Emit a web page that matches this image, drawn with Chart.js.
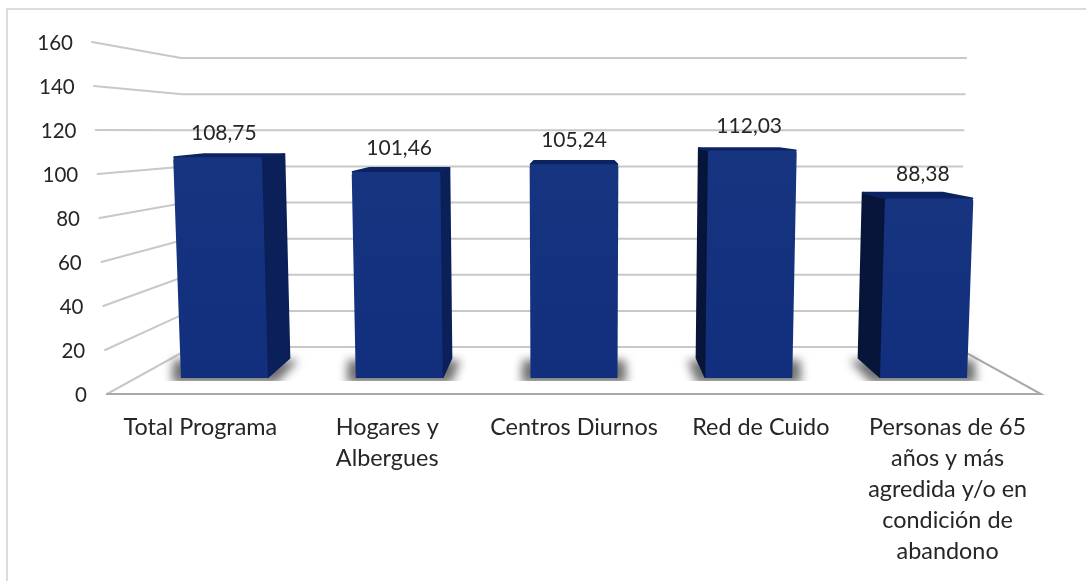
<!DOCTYPE html>
<html lang="es">
<head>
<meta charset="utf-8">
<style>
html,body{margin:0;padding:0;background:#fff;overflow:hidden}
#wrap{position:absolute;left:0;top:0;width:1086px;height:581px}
</style>
<script src="https://cdn.jsdelivr.net/npm/chart.js@4/dist/chart.umd.min.js"></script>
</head>
<body>
<div id="wrap"><canvas id="c" width="1086" height="581"></canvas></div>
<script>
const categories = [
  'Total Programa',
  ['Hogares y', 'Albergues'],
  'Centros Diurnos',
  'Red de Cuido',
  ['Personas de 65', 'años y más', 'agredida y/o en', 'condición de', 'abandono']
];
const values = [108.75, 101.46, 105.24, 112.03, 88.38];
const gridValues = [0, 20, 40, 60, 80, 100, 120, 140, 160];

const FONT = 'Lato, "Open Sans", sans-serif';
const TEXT = '#262626';

/* perspective of the fake 3D box */
const FRONT_SCALE = 0.9355;   /* bar front plane against the axis plane */
const DEPTH_SCALE = 0.927;    /* bar back plane against bar front plane */
const DEPTH_BASE_Y = 358;
const SKEW = 0.00009;

/* plain polygon with an optional rounded outline in its own colour */
function poly(ctx, pts, fill, outline) {
  ctx.beginPath();
  pts.forEach((p, i) => i ? ctx.lineTo(p[0], p[1]) : ctx.moveTo(p[0], p[1]));
  ctx.closePath();
  ctx.fillStyle = fill;
  ctx.fill();
  if (outline) {
    ctx.strokeStyle = fill;
    ctx.lineWidth = outline;
    ctx.lineJoin = 'round';
    ctx.stroke();
  }
}

function barGeometry(chart, el) {
  const a = chart.chartArea;
  const cx = (a.left + a.right) / 2;
  const fx = x => cx + (x - cx) * FRONT_SCALE;
  const bx = x => cx + (x - cx) * FRONT_SCALE * DEPTH_SCALE;
  const l = el.x - el.width / 2, r = el.x + el.width / 2;
  const h = el.base - el.y;
  const skew = x => (x - cx) * SKEW * h;
  const fl = fx(l), fr = fx(r), bl = bx(l), br = bx(r);
  const backTop = DEPTH_BASE_Y - h * DEPTH_SCALE;
  return {
    cx, h, base: el.base, top: el.y, backTop,
    fl, fr, bl, br,
    ftl: fl + skew(fl), ftr: fr + skew(fr),
    btl: bl + skew(bl) * 0.9, btr: br + skew(br) * 0.9
  };
}

function drawBar3D(ctx) {
  const chart = this.$chart;
  const g = barGeometry(chart, this);
  ctx.save();
  /* side face */
  if (g.fr < g.br) {
    poly(ctx, [[g.ftr, g.top + 1], [g.btr - 1, g.backTop + 1], [g.br - 1, DEPTH_BASE_Y], [g.fr, g.base - 1]], '#0b1f58', 2);
  }
  if (g.fl > g.bl) {
    poly(ctx, [[g.ftl, g.top + 1], [g.btl + 1, g.backTop + 1], [g.bl + 1, DEPTH_BASE_Y], [g.fl, g.base - 1]], '#061539', 2);
  }
  /* top face */
  poly(ctx, [[g.ftl + 1, g.top], [g.btl + 1, g.backTop + 1], [g.btr - 1, g.backTop + 1], [g.ftr - 1, g.top]], '#0c2361', 2);
  /* front face, slightly rounded at the top corners */
  const grad = ctx.createLinearGradient(0, g.top, 0, g.base);
  grad.addColorStop(0, '#173481');
  grad.addColorStop(1, '#122f7d');
  ctx.beginPath();
  ctx.moveTo(g.fl, g.base);
  ctx.arcTo(g.ftl, g.top, g.ftr, g.top, 3);
  ctx.arcTo(g.ftr, g.top, g.fr, g.base, 3);
  ctx.lineTo(g.fr, g.base);
  ctx.closePath();
  ctx.fillStyle = grad;
  ctx.fill();
  ctx.restore();
}

const box3d = {
  id: 'box3d',
  afterDatasetsUpdate(chart) {
    chart.getDatasetMeta(0).data.forEach(el => { el.$chart = chart; el.draw = drawBar3D; });
  },
  beforeDraw(chart) {
    /* tick labels follow the slanted left wall */
    const items = chart.scales.y.getLabelItems();
    if (!items._shifted) {
      items.forEach(it => {
        it.options.translation[0] -= Number(it.label) * 14 / 160;
        it.options.translation[1] += 1;
      });
      items._shifted = true;
    }
  },
  beforeDatasetsDraw(chart) {
    const ctx = chart.ctx, a = chart.chartArea;
    const yS = chart.scales.y, back = chart.scales.yBack;
    const wallFront = v => a.left - v * 15 / 160;
    const backLeft = v => 192 - v * 11 / 160;
    const backRight = v => 956 + v * 10 / 160;
    ctx.save();
    /* page frame */
    ctx.fillStyle = '#dcdcdc';
    ctx.fillRect(7, 8, 1079, 2);
    ctx.fillRect(6, 8, 2, 573);
    /* grid lines on both wall planes */
    ctx.lineCap = 'round';
    gridValues.forEach(v => {
      ctx.beginPath();
      ctx.moveTo(wallFront(v), yS.getPixelForValue(v));
      ctx.lineTo(backLeft(v), back.getPixelForValue(v));
      ctx.lineTo(backRight(v), back.getPixelForValue(v));
      ctx.strokeStyle = '#c8c8c8';
      ctx.lineWidth = 2;
      ctx.stroke();
    });
    /* floor edges */
    const y0 = yS.getPixelForValue(0), by0 = back.getPixelForValue(0);
    ctx.beginPath();
    ctx.moveTo(backRight(0), by0);
    ctx.lineTo(a.right, y0);
    ctx.lineTo(a.left, y0);
    ctx.strokeStyle = '#a9a9a9';
    ctx.lineWidth = 2;
    ctx.stroke();
    /* soft shadows under the bars */
    ctx.save();
    ctx.beginPath();
    ctx.rect(a.left, a.top, a.right - a.left, 339);
    ctx.clip();
    ctx.filter = 'blur(5px)';
    chart.getDatasetMeta(0).data.forEach(el => {
      const g = barGeometry(chart, el);
      poly(ctx, [
        [g.fl - 9, g.base + 5], [g.fr + 9, g.base + 5],
        [Math.max(g.br, g.fr) + 8, DEPTH_BASE_Y + 2], [Math.min(g.bl, g.fl) - 8, DEPTH_BASE_Y + 2]
      ], '#707070');
    });
    ctx.filter = 'none';
    ctx.restore();
    ctx.restore();
  },
  afterDatasetsDraw(chart) {
    const ctx = chart.ctx;
    ctx.save();
    ctx.font = '21px ' + FONT;
    ctx.fillStyle = TEXT;
    ctx.textAlign = 'center';
    ctx.textBaseline = 'middle';
    chart.getDatasetMeta(0).data.forEach((el, i) => {
      const g = barGeometry(chart, el);
      const shift = (g.cx - (g.fl + g.fr) / 2) * 0.018;
      ctx.fillText(values[i].toFixed(2).replace('.', ','), (g.ftl + g.ftr) / 2 + shift, g.top - 24);
    });
    ctx.restore();
  }
};

new Chart(document.getElementById('c'), {
  type: 'bar',
  data: {
    labels: categories,
    datasets: [{
      data: values,
      yAxisID: 'yBar',
      backgroundColor: '#14307e',
      barPercentage: 0.498,
      categoryPercentage: 1
    }]
  },
  options: {
    responsive: false,
    animation: false,
    events: [],
    layout: { padding: { top: 42, right: 45, left: 0, bottom: 0 } },
    plugins: { legend: { display: false }, tooltip: { enabled: false }, title: { display: false } },
    scales: {
      x: {
        grid: { display: false },
        border: { display: false },
        afterFit(s) { s.height = 187; },
        ticks: {
          autoSkip: false, maxRotation: 0, minRotation: 0, padding: 10,
          color: TEXT,
          font: { family: FONT, size: 23.4, lineHeight: 1.32 }
        }
      },
      y: {
        position: 'left',
        min: 0, max: 160,
        grid: { display: false },
        border: { display: false },
        afterFit(s) { s.width = 107; },
        ticks: {
          stepSize: 20, padding: 12,
          color: TEXT,
          font: { family: FONT, size: 20.5 }
        }
      },
      /* the bars stand on a plane nearer the back, the wall further back */
      yBar: { display: false, position: 'left', min: -7.88, max: 165.5 },
      yBack: { display: false, position: 'left', min: -26, max: 168.9 }
    }
  },
  plugins: [box3d]
});
</script>
</body>
</html>
